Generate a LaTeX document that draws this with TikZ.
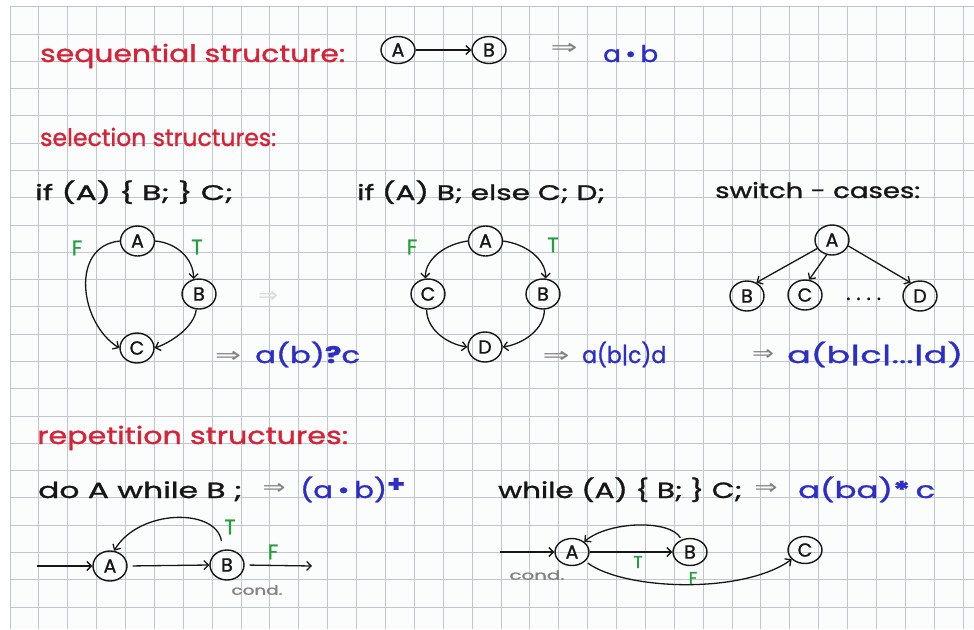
\documentclass[tikz,border=0pt]{standalone}
\usepackage{graphicx}
\usepackage{fontspec}
\setmainfont{Poppins}[FakeBold=1.2]
\newfontfamily\symf{DejaVu Sans}
\usetikzlibrary{arrows.meta,shapes.geometric}
\definecolor{ink}{RGB}{22,22,22}
\definecolor{pred}{RGB}{215,35,55}
\definecolor{pblue}{RGB}{45,45,200}
\definecolor{pgreen}{RGB}{35,160,60}
\definecolor{pgray}{RGB}{130,130,130}
\definecolor{gridc}{RGB}{192,198,201}
\definecolor{paper}{RGB}{251,252,252}
\newcommand\fitto[2]{\resizebox{#1}{\height}{#2}}
\begin{document}
\begin{tikzpicture}[x=1pt,y=-1pt,
  gridline/.style={draw=gridc, line width=0.9pt},
  state/.style={draw=ink, ellipse, line width=1.4pt, minimum width=34pt, minimum height=30pt, inner sep=0pt, text=ink, font=\fontsize{19}{19}\selectfont},
  flat/.style={minimum height=27pt},
  arr/.style={draw=ink, line width=1.3pt, -{Straight Barb[length=4.5pt,width=9pt]}},
  txt/.style={anchor=base west, inner sep=0pt},
  redh/.style={txt, text=pred, font=\fontsize{24}{24}\selectfont},
  blackh/.style={txt, text=ink, font=\fontsize{21}{21}\selectfont},
  bluex/.style={txt, text=pblue, font=\fontsize{23}{23}\selectfont},
  imp/.style={anchor=center, inner sep=0pt, text=pgray, font=\symf\fontsize{21}{21}\selectfont},
  lab/.style={anchor=center, inner sep=0pt, text=pgreen, font=\fontsize{21}{21}\selectfont},
  labs/.style={lab, font=\fontsize{17}{17}\selectfont},
  cond/.style={anchor=center, inner sep=0pt, text=pgray, font=\fontsize{13}{13}\selectfont}
]
\useasboundingbox (0,0) rectangle (974,629);
\fill[white] (0,0) rectangle (974,629);
\fill[paper] (10,6.7) rectangle (974,629);
\foreach \i in {0,...,33} \draw[gridline] ({10+28.88*\i},6.7) -- ({10+28.88*\i},629);
\foreach \j in {0,...,22} \draw[gridline] (10,{6.7+27.29*\j}) -- (974,{6.7+27.29*\j});

% ---------- sequential
\node[redh] (h1) at (40,62) {\fitto{305pt}{sequential structure:}};
\node[state,flat] (A0) at (398,50) {A};
\node[state,flat] (B0) at (489,50) {B};
\draw[arr] (A0) -- (B0);
\node[imp] (i0) at (564,49) {\fitto{27pt}{⇒}};
\node[bluex] (e0) at (603,62) {\fitto{55pt}{a\,•\,b}};

% ---------- selection
\node[redh] (h2) at (40,146) {\fitto{236pt}{selection structures:}};
\node[blackh] (s1) at (35,200) {\fitto{198pt}{if (A) \{ B; \} C;}};
\node[blackh] (s2) at (357,200) {\fitto{248pt}{if (A) B; else C; D;}};
\node[blackh] (s3) at (715,198) {\fitto{205pt}{switch - cases:}};

% if
\node[state] (A1) at (137.5,241) {A};
\node[state] (B1) at (199,294) {B};
\node[state] (C1) at (137,348) {C};
\draw[arr] (A1.west) .. controls +(-50,5) and +(-40,-25) .. (C1.west);
\draw[arr] (A1.east) .. controls +(22,2) and +(0,-20) .. (B1.110);
\draw[arr] (B1.260) .. controls +(-2,18) and +(15,-5) .. (C1.east);
\node[lab] (F1) at (77,248) {F};
\node[lab] (T1) at (197,247) {T};
\node[imp, text=pgray!30] (g1) at (268,297) {\fitto{20pt}{⇒}};
\node[imp] (i1) at (228,357) {\fitto{26pt}{⇒}};
\node[bluex] (e1) at (255,363) {\fitto{105pt}{a(b)\textbf{?}c}};

% if else
\node[state] (A2) at (485.5,241) {A};
\node[state] (C2) at (428,294) {C};
\node[state] (B2) at (543,294) {B};
\node[state] (D2) at (485,347) {D};
\draw[arr] (A2.west) .. controls +(-22,3) and +(0,-20) .. (C2.100);
\draw[arr] (A2.east) .. controls +(22,3) and +(0,-20) .. (B2.80);
\draw[arr] (C2.265) .. controls +(0,20) and +(-20,-3) .. (D2.west);
\draw[arr] (B2.275) .. controls +(0,20) and +(20,-3) .. (D2.east);
\node[lab] (F2) at (412,247) {F};
\node[lab] (T2) at (553,245) {T};
\node[imp] (i2) at (556,357) {\fitto{27pt}{⇒}};
\node[bluex] (e2) at (582,363) {\fitto{84pt}{a(b|c)d}};

% switch
\node[state] (A3) at (832,240) {A};
\node[state] (B3) at (747,296) {B};
\node[state] (C3) at (805,295) {C};
\node[state] (D3) at (920,296) {D};
\draw[arr] (A3.210) -- (B3.55);
\draw[arr] (A3.250) -- (C3.75);
\draw[arr] (A3.-20) -- (D3.125);
\node[txt, text=ink, font=\fontsize{20}{20}\selectfont] (dots) at (846,300) {.\hspace{6pt}.\hspace{6pt}.\hspace{6pt}.};
\node[imp] (i3) at (763,355) {\fitto{22pt}{⇒}};
\node[bluex] (e3) at (787,363) {\fitto{176pt}{a(b|c|...|d)}};

% ---------- repetition
\node[redh] (h3) at (37,444) {\fitto{311pt}{repetition structures:}};
\node[blackh, font=\fontsize{22}{22}\selectfont] (r1) at (38,498) {\fitto{204pt}{do A while B ;}};
\node[imp] (i4) at (274,489) {\fitto{23pt}{⇒}};
\node[bluex] (e4) at (300,498) {\fitto{105pt}{(a\,•\,b)\raisebox{6pt}{\textbf{+}}}};
\node[blackh, font=\fontsize{22}{22}\selectfont] (r2) at (498,498) {\fitto{244pt}{while (A) \{ B; \} C;}};
\node[imp] (i5) at (766,489) {\fitto{23pt}{⇒}};
\node[bluex] (e5) at (798,498) {\fitto{137pt}{a(ba)\textbf{*}\,c}};

% do while
\coordinate (in4) at (37,566);
\coordinate (out4) at (312,566);
\node[state] (A4) at (110,566) {A};
\node[state] (B4) at (227,565) {B};
\draw[arr] (in4) -- (A4.west);
\draw[arr, shorten <=5pt] (A4.east) -- (B4.west);
\draw[arr, shorten <=5pt] (B4.east) -- (out4);
\draw[arr, shorten <=9pt] (B4.105) .. controls +(-7,-42) and +(25,-42) .. (A4.75);
\node[lab] (T4) at (230,527) {T};
\node[lab] (F4) at (273,552) {F};
\node[cond] (c4) at (257,590) {\fitto{51pt}{cond.}};

% while
\coordinate (in5) at (500,552);
\node[state,flat] (A5) at (572,552) {A};
\node[state,flat] (B5) at (690,552) {B};
\node[state,flat] (C5) at (805,550) {C};
\draw[arr] (in5) -- (A5.west);
\draw[arr] (A5.east) -- (B5.west);
\draw[arr, shorten <=2pt] (B5.125) .. controls +(-11,-20) and +(25,-21) .. (A5.40);
\draw[arr, shorten <=3pt] (A5.-35) .. controls +(40,29) and +(-49,35) .. (C5.215);
\node[labs] (T5) at (638,562) {T};
\node[labs] (F5) at (693,578) {F};
\node[cond] (c5) at (537,575) {\fitto{55pt}{cond.}};
\end{tikzpicture}
\end{document}
